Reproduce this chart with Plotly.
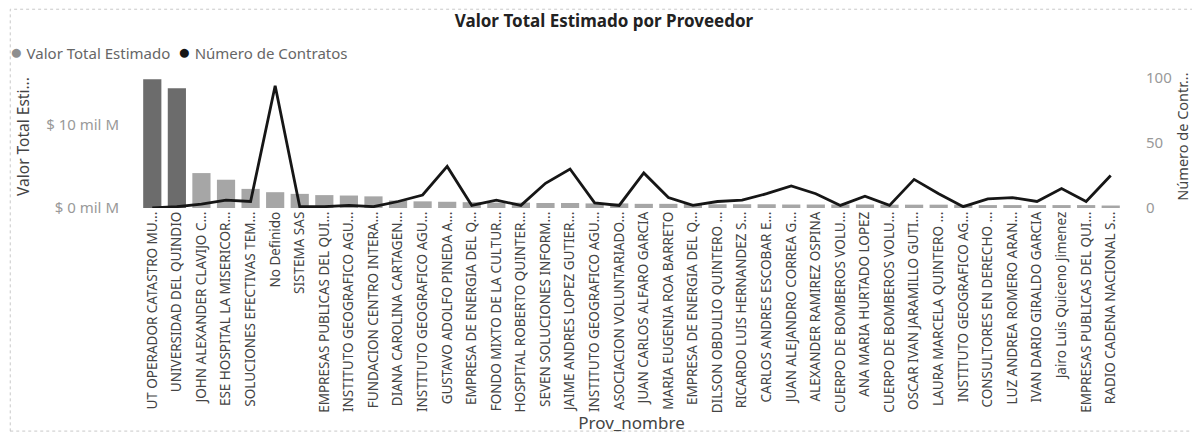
import plotly.graph_objects as go

# proveedores (nombres truncados como en el visual)
proveedores = [
    "UT OPERADOR CATASTRO MU...", "UNIVERSIDAD DEL QUINDIO", "JOHN ALEXANDER CLAVIJO C...",
    "ESE HOSPITAL LA MISERICOR...", "SOLUCIONES EFECTIVAS TEM...", "No Definido", "SISTEMA SAS",
    "EMPRESAS PUBLICAS DEL QUI...", "INSTITUTO GEOGRAFICO AGU...", "FUNDACION CENTRO INTERA...",
    "DIANA CAROLINA CARTAGEN...", "INSTITUTO GEOGRAFICO AGU...", "GUSTAVO ADOLFO PINEDA A...",
    "EMPRESA DE ENERGIA DEL Q...", "FONDO MIXTO DE LA CULTUR...", "HOSPITAL ROBERTO QUINTER...",
    "SEVEN SOLUCIONES INFORM...", "JAIME ANDRES LOPEZ GUTIER...", "INSTITUTO GEOGRAFICO AGU...",
    "ASOCIACION VOLUNTARIADO...", "JUAN CARLOS ALFARO GARCIA", "MARIA EUGENIA ROA BARRETO",
    "EMPRESA DE ENERGIA DEL Q...", "DILSON OBDULIO QUINTERO ...", "RICARDO LUIS HERNANDEZ S...",
    "CARLOS ANDRES ESCOBAR E...", "JUAN ALEJANDRO CORREA G...", "ALEXANDER RAMIREZ OSPINA",
    "CUERPO DE BOMBEROS VOLU...", "ANA MARIA HURTADO LOPEZ", "CUERPO DE BOMBEROS VOLU...",
    "OSCAR IVAN JARAMILLO GUTI...", "LAURA MARCELA QUINTERO ...", "INSTITUTO GEOGRAFICO AG...",
    "CONSULTORES EN DERECHO ...", "LUZ ANDREA ROMERO ARAN...", "IVAN DARIO GIRALDO GARCIA",
    "Jairo Luis Quiceno Jimenez", "EMPRESAS PUBLICAS DEL QUI...", "RADIO CADENA NACIONAL S...",
]

# valor total estimado, en mil M (miles de millones de pesos)
valor_total = [
    15.5, 14.4, 4.2, 3.4, 2.3, 1.9, 1.7, 1.55, 1.5, 1.4,
    0.9, 0.8, 0.75, 0.7, 0.65, 0.65, 0.6, 0.6, 0.55, 0.55,
    0.5, 0.5, 0.5, 0.45, 0.45, 0.45, 0.42, 0.42, 0.42, 0.42,
    0.4, 0.4, 0.4, 0.4, 0.35, 0.35, 0.35, 0.35, 0.35, 0.3,
]

num_contratos = [
    0, 1, 3, 6, 5, 94, 1, 1, 2, 1,
    5, 10, 32, 2, 6, 2, 19, 30, 4, 2,
    27, 8, 2, 5, 6, 11, 17, 11, 2, 9,
    2, 22, 11, 1, 7, 8, 5, 15, 5, 25,
]

ticks_valor = [0, 10]
ticks_valor_txt = ["$ 0 mil M", "$ 10 mil M"]
ticks_contratos = [0, 50, 100]

idx = list(range(len(proveedores)))
bar_colors = ["#6c6c6c" if i < 2 else "#a6a6a6" for i in idx]
COL_VALOR = "#8e8e8e"
COL_CONTR = "#161616"

FONT = "Noto Sans"

fig = go.Figure()
fig.add_trace(go.Bar(
    x=idx, y=valor_total, name="Valor Total Estimado",
    marker=dict(color=bar_colors, line=dict(width=0)),
    yaxis="y",
))
fig.add_trace(go.Scatter(
    x=idx, y=num_contratos, name="Número de Contratos", mode="lines",
    line=dict(color=COL_CONTR, width=2.8),
    yaxis="y2",
))

# la pagina tiene 8px de margen en el body -> figura de 1192x426
fig.update_layout(
    width=1192, height=426,
    margin=dict(l=132, r=77, t=57, b=226),
    paper_bgcolor="white", plot_bgcolor="white",
    font=dict(family=FONT, color="#555"),
    showlegend=False,
    title=dict(text="<b>Valor Total Estimado por Proveedor</b>", x=0.5, xanchor="center",
               xref="container", y=0.97, yanchor="middle",
               font=dict(size=17, color="#222", family=FONT)),
    bargap=0.26,
    xaxis=dict(
        tickmode="array", tickvals=idx, ticktext=proveedores, tickangle=-90,
        range=[-0.5, len(proveedores) - 0.5], showgrid=False, zeroline=False,
        showline=False, ticks="", tickfont=dict(size=13.5, color="#444"),
        title=dict(text="Prov_nombre", font=dict(size=17, color="#444"), standoff=2),
        automargin=False,
    ),
    yaxis=dict(
        range=[0, 17.2], tickmode="array", tickvals=ticks_valor, ticktext=ticks_valor_txt,
        showgrid=False, zeroline=False, showline=False, ticks="",
        tickfont=dict(size=15, color="#999"), ticklabelstandoff=20,
        title=dict(text="Valor Total Esti...", font=dict(size=15.5, color="#444"), standoff=12),
        automargin=False,
    ),
    yaxis2=dict(
        range=[0, 110], overlaying="y", side="right", tickmode="array",
        tickvals=ticks_contratos, showgrid=False, zeroline=False, showline=False, ticks="",
        tickfont=dict(size=15, color="#999"), ticklabelstandoff=22,
        title=dict(text="Número de Contr...", font=dict(size=14.5, color="#444"), standoff=1),
        automargin=False,
    ),
)

# leyenda estilo Power BI (circulo + texto, compacta)
circ = "<span style='color:{};font-size:21px'>●</span>"
leyenda = (circ.format(COL_VALOR) + " Valor Total Estimado  "
           + circ.format(COL_CONTR) + " Número de Contratos")
fig.add_annotation(text=leyenda, xref="paper", yref="paper", x=-0.134, y=1.095,
                   xanchor="left", yanchor="middle", showarrow=False,
                   font=dict(size=15, color="#666", family=FONT))

# marco punteado del visual
fig.add_shape(type="rect", xref="paper", yref="paper",
              x0=-0.132, x1=1.073, y0=-1.56, y1=1.39,
              line=dict(color="#c8c8c8", width=1, dash="dot"), layer="below")

fig.write_html("out.html")
